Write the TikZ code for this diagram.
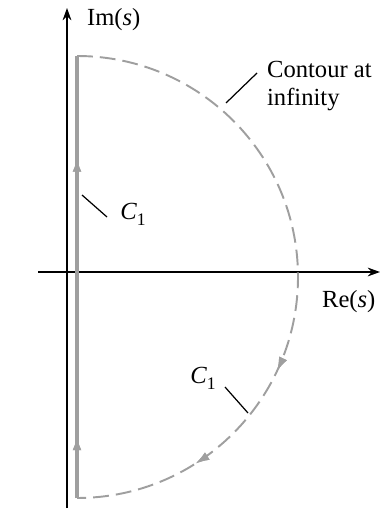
\documentclass[tikz,border=0pt]{standalone}
\usepackage{fontspec}
\setmainfont{Liberation Serif}
\usetikzlibrary{arrows.meta,decorations.markings}

\newcommand{\Cone}{\textit{C}\raisebox{-0.55ex}{\fontsize{10}{12}\selectfont 1}}

\begin{document}
\begin{tikzpicture}[
    x=0.02cm, y=-0.02cm,
    font=\fontsize{14}{16}\selectfont,
    >={Stealth[length=7pt,width=5pt]},
    axis/.style={->, line width=0.9pt, black},
    path1/.style={line width=1.8pt, gray!75},
    arc1/.style={line width=1.1pt, gray!75, dash pattern=on 9pt off 4pt},
    leader/.style={line width=0.7pt, black},
    lbl/.style={inner sep=1pt, align=left},
    tip/.style={decoration={markings, mark=at position #1 with
        {\arrow[gray!75]{Latex[length=8pt,width=5pt]}}}, postaction=decorate}
]
\useasboundingbox (0,0) rectangle (381,509);

% --- Axes ---
\coordinate (ybot) at (67,508);
\coordinate (ytop) at (67,8);
\coordinate (xleft) at (38,272);
\coordinate (xright) at (380,272);
\draw[axis] (ybot) -- (ytop);
\draw[axis] (xleft) -- (xright);
\node[lbl, anchor=west] (im) at (85,20) {Im(\textit{s})};
\node[lbl, anchor=west] (re) at (320,302) {Re(\textit{s})};

% --- Contour ---
\coordinate (bot) at (77,498);
\coordinate (top) at (77,56);
\draw[path1, tip=0.14, tip=0.77] (bot) -- (top);
% y axis points down, so the angles run the other way
\draw[arc1, tip=0.64, tip=0.82] (top) arc[start angle=-90, end angle=90, radius=221];

% --- Labels ---
\node[lbl, anchor=west] (inf) at (265,86) {Contour at\\infinity};
\coordinate (infa) at (257,73);
\coordinate (infb) at (226,103);
\draw[leader] (infa) -- (infb);

\node[lbl] (c1up) at (133,214) {\Cone};
\coordinate (c1a) at (107,217);
\coordinate (c1b) at (82,195);
\draw[leader] (c1a) -- (c1b);

\node[lbl] (c1low) at (203,378) {\Cone};
\coordinate (c1c) at (225,387);
\coordinate (c1d) at (248,413);
\draw[leader] (c1c) -- (c1d);

\end{tikzpicture}
\end{document}
